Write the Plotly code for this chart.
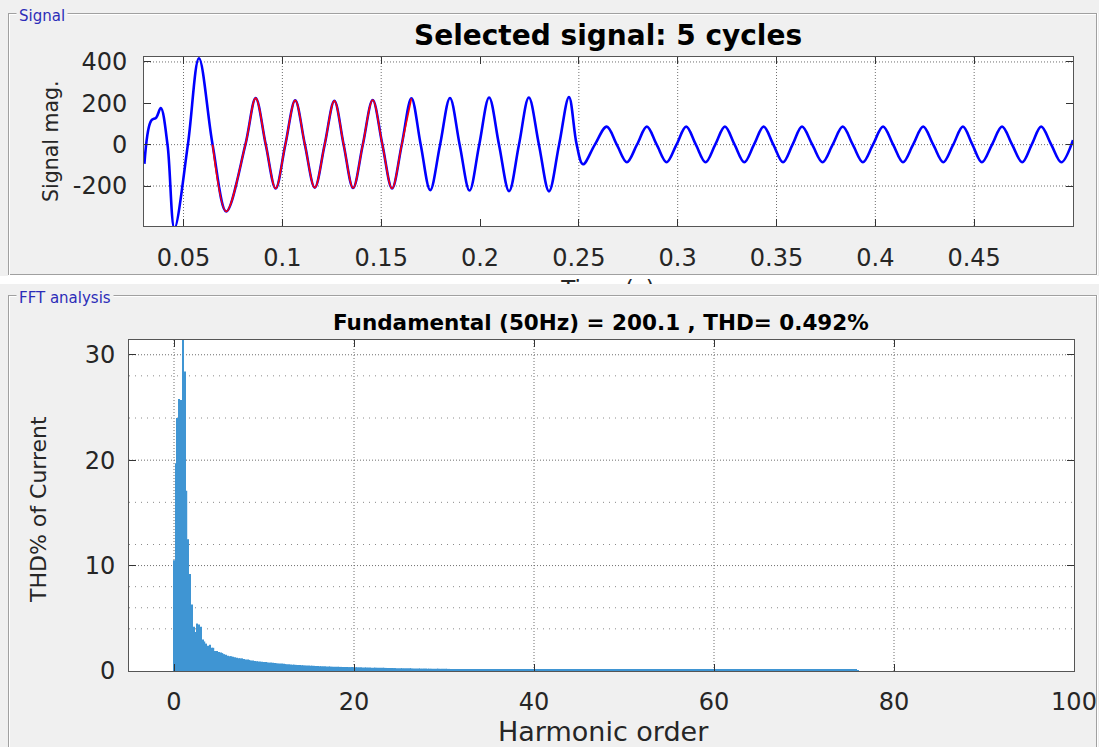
import plotly.graph_objects as go

# ---------------- data ----------------
# Time-domain signal: key points (peaks, troughs, zero crossings), seconds / magnitude
sig_t = [0.0302, 0.0336, 0.0362, 0.0385, 0.0419, 0.0454, 0.0522, 0.0578, 0.0647, 0.0716,
         0.0813, 0.0865, 0.0916, 0.0966, 0.1015, 0.1065, 0.1114, 0.1164, 0.1214, 0.1263,
         0.1310, 0.1358, 0.1407, 0.1457, 0.1506, 0.1555, 0.1604, 0.1653, 0.1700, 0.1748,
         0.1798, 0.1848, 0.1897, 0.1947, 0.1996, 0.2046, 0.2096, 0.2147, 0.2197, 0.2247,
         0.2298, 0.2349, 0.2400, 0.2450, 0.2489, 0.2521, 0.2581, 0.2641, 0.2692, 0.2743,
         0.2794, 0.2844, 0.2894, 0.2944, 0.2994, 0.3043, 0.3092, 0.3141, 0.3190, 0.3239,
         0.3288, 0.3337, 0.3386, 0.3435, 0.3484, 0.3533, 0.3581, 0.3629, 0.3681, 0.3733,
         0.3784, 0.3835, 0.3886, 0.3937, 0.3988, 0.4039, 0.4090, 0.4140, 0.4191, 0.4242,
         0.4293, 0.4344, 0.4394, 0.4443, 0.4491, 0.4539, 0.4590, 0.4641, 0.4692, 0.4743,
         0.4791, 0.4839, 0.4890, 0.4941, 0.5000]
sig_v = [-93, 116, 131, 177, 0, -405, 0, 418, 0, -323,
         0, 225, 0, -212, 0, 214, 0, -208, 0, 212,
         0, -210, 0, 216, 0, -212, 0, 224, 0, -220,
         0, 226, 0, -222, 0, 228, 0, -225, 0, 228,
         0, -226, 0, 230, 0, -95, 0, 87, 0, -85,
         0, 87, 0, -85, 0, 87, 0, -85, 0, 87,
         0, -85, 0, 87, 0, -85, 0, 87, 0, -85,
         0, 87, 0, -85, 0, 87, 0, -85, 0, 87,
         0, -85, 0, 87, 0, -85, 0, 87, 0, -85,
         0, 87, 0, -85, 22]

# selected 5-cycle window (s)
sel_start = 0.064
sel_end = 0.167

# FFT spectrum: harmonic orders start at 0, step 0.2 ; THD % values
harm_start = 0.0
harm_step = 0.2
thd_vals = [
    10.5, 19.7, 24.0, 25.8, 25.7,
    100.0, 28.4, 17.1, 12.5, 9.2,
    6.3, 4.2, 3.7, 4.5, 4.4,
    4.2, 3.0, 2.8, 2.6, 2.4,
    2.5, 2.2, 2.2, 1.9, 1.9,
    1.8, 1.75, 1.7, 1.6, 1.55,
    1.45, 1.4, 1.4, 1.35, 1.3,
    1.25, 1.2, 1.2, 1.2, 1.15,
    1.1, 1.1, 1.05, 1.0, 1.0,
    0.95, 0.93, 0.9, 0.9, 0.88,
    0.85, 0.85, 0.82, 0.8, 0.8,
    0.78, 0.75, 0.74, 0.72, 0.7,
    0.7, 0.68, 0.66, 0.64, 0.63,
    0.62, 0.6, 0.6, 0.58, 0.57,
    0.56, 0.55, 0.54, 0.53, 0.52,
    0.51, 0.5, 0.5, 0.49, 0.48,
    0.47, 0.46, 0.45, 0.45, 0.44,
    0.43, 0.42, 0.42, 0.41, 0.41,
    0.4, 0.4, 0.39, 0.39, 0.38,
    0.38, 0.38, 0.37, 0.37, 0.37,
    0.36, 0.36, 0.35, 0.35, 0.35,
    0.34, 0.34, 0.33, 0.33, 0.33,
    0.32, 0.32, 0.32, 0.31, 0.31,
    0.3, 0.3, 0.3, 0.29, 0.29,
    0.28, 0.28, 0.28, 0.28, 0.27,
    0.27, 0.26, 0.26, 0.26, 0.25,
    0.25, 0.25, 0.25, 0.24, 0.24,
    0.24, 0.24, 0.23, 0.23, 0.23,
    0.23, 0.22, 0.22, 0.22, 0.22,
    0.22, 0.22, 0.22, 0.21, 0.21,
    0.21, 0.21, 0.2, 0.2, 0.2,
    0.2, 0.2, 0.19, 0.19, 0.19,
    0.19, 0.18, 0.18, 0.18, 0.18,
    0.18, 0.18, 0.18, 0.17, 0.17,
    0.17, 0.17, 0.17, 0.17, 0.17,
    0.17, 0.17, 0.16, 0.16, 0.16,
    0.16, 0.16, 0.16, 0.16, 0.16,
    0.16, 0.16, 0.15, 0.15, 0.15,
    0.15, 0.15, 0.15, 0.15, 0.15,
    0.15, 0.15, 0.14, 0.14, 0.14,
    0.14, 0.14, 0.14, 0.14, 0.14,
    0.14, 0.14, 0.14, 0.14, 0.14,
    0.14, 0.14, 0.13, 0.13, 0.13,
    0.13, 0.13, 0.13, 0.13, 0.13,
    0.13, 0.13, 0.13, 0.13, 0.13,
    0.13, 0.12, 0.12, 0.12, 0.12,
    0.12, 0.12, 0.12, 0.12, 0.12,
    0.12, 0.12, 0.12, 0.12, 0.12,
    0.12, 0.12, 0.12, 0.12, 0.12,
    0.12, 0.12, 0.12, 0.12, 0.12,
    0.12, 0.12, 0.12, 0.12, 0.12,
    0.12, 0.12, 0.12, 0.12, 0.12,
    0.11, 0.11, 0.11, 0.11, 0.11,
    0.11, 0.11, 0.11, 0.11, 0.11,
    0.11, 0.11, 0.11, 0.11, 0.11,
    0.11, 0.11, 0.11, 0.11, 0.11,
    0.11, 0.11, 0.11, 0.11, 0.11,
    0.11, 0.11, 0.11, 0.11, 0.11,
    0.11, 0.11, 0.11, 0.11, 0.11,
    0.11, 0.11, 0.11, 0.11, 0.11,
    0.11, 0.11, 0.11, 0.11, 0.11,
    0.11, 0.11, 0.11, 0.11, 0.11,
    0.1, 0.1, 0.1, 0.1, 0.1,
    0.1, 0.1, 0.1, 0.1, 0.1,
    0.1, 0.1, 0.1, 0.1, 0.1,
    0.1, 0.1, 0.1, 0.1, 0.1,
    0.1, 0.1, 0.1, 0.1, 0.1,
    0.1, 0.1, 0.1, 0.1, 0.1,
    0.1, 0.1, 0.1, 0.1, 0.1,
    0.1, 0.1, 0.1, 0.1, 0.1,
    0.1, 0.1, 0.1, 0.1, 0.1,
    0.1, 0.1, 0.1, 0.1, 0.1,
    0.1, 0.1, 0.1, 0.1, 0.1,
    0.1, 0.1, 0.1, 0.1, 0.1,
    0.1, 0.1, 0.1, 0.1, 0.1,
    0.1, 0.1, 0.1, 0.1, 0.1,
    0.09,
]

time_ticks = [0.05, 0.1, 0.15, 0.2, 0.25, 0.3, 0.35, 0.4, 0.45]
time_ticktext = ["0.05", "0.1", "0.15", "0.2", "0.25", "0.3", "0.35", "0.4", "0.45"]
mag_ticks = [-200, 0, 200, 400]
mag_ticktext = ["-200", "0", "200", "400"]
harm_ticks = [0, 20, 40, 60, 80, 100]
thd_ticks = [0, 10, 20, 30]

top_title = "Selected signal: 5 cycles"
bottom_title = "Fundamental (50Hz) = 200.1 , THD= 0.492%"

# ---------------- layout helpers ----------------
W, H = 1099, 747
FONT = "DejaVu Sans"
TXT = "#262626"


def px(x):
    return x / W


def py(y):
    return 1 - y / H


fig = go.Figure()

fig.add_trace(go.Scatter(
    x=sig_t, y=sig_v, mode="lines",
    line=dict(color="#0000ff", width=2.6, shape="spline", smoothing=1.0),
    xaxis="x", yaxis="y", hoverinfo="skip", showlegend=False))

sel_t = [t for t in sig_t if sel_start <= t <= sel_end]
sel_v = [v for t, v in zip(sig_t, sig_v) if sel_start <= t <= sel_end]
fig.add_trace(go.Scatter(
    x=sel_t, y=sel_v, mode="lines",
    line=dict(color="#ff0000", width=1.6, shape="spline", smoothing=1.0),
    xaxis="x", yaxis="y", hoverinfo="skip", showlegend=False))

fig.add_trace(go.Bar(
    x0=harm_start, dx=harm_step, y=thd_vals,
    marker=dict(color="#3f95d3", line=dict(width=0)),
    xaxis="x2", yaxis="y2", hoverinfo="skip", showlegend=False))

# clipped x-axis title of the top panel (only its top is visible in the gap)
fig.add_trace(go.Scatter(
    x=[608 / W], y=[-0.95], mode="text", text=["Time (s)"],
    textfont=dict(family=FONT, size=23, color=TXT), textposition="middle center",
    cliponaxis=True, xaxis="x3", yaxis="y3", hoverinfo="skip", showlegend=False))

axis_common = dict(
    showline=True, linecolor="#555555", linewidth=1, mirror="ticks",
    ticks="inside", tickcolor="#333333", ticklen=7, tickwidth=1,
    showgrid=False, zeroline=False, automargin=False,
    tickfont=dict(family=FONT, size=24, color=TXT),
)

fig.update_layout(
    width=W, height=H, autosize=False,
    margin=dict(l=0, r=0, t=0, b=0, pad=0, autoexpand=False),
    paper_bgcolor="#f0f0f0", plot_bgcolor="#ffffff",
    bargap=0.3, showlegend=False,
    xaxis=dict(domain=[px(144), px(1073)], range=[0.03, 0.5], anchor="y",
               tickmode="array", tickvals=time_ticks, ticktext=time_ticktext,
               ticklabelstandoff=10, **axis_common),
    yaxis=dict(domain=[py(226), py(57)], range=[-393.5, 424], anchor="x",
               tickmode="array", tickvals=mag_ticks, ticktext=mag_ticktext,
               ticklabelstandoff=11, **axis_common),
    xaxis2=dict(domain=[px(129), px(1074)], range=[-5, 100], anchor="y2",
                tickmode="array", tickvals=harm_ticks,
                ticklabelstandoff=9, **axis_common),
    yaxis2=dict(domain=[py(671), py(340)], range=[0, 31.4], anchor="x2",
                tickmode="array", tickvals=thd_ticks,
                ticklabelstandoff=8, **axis_common),
    xaxis3=dict(domain=[0, 1], range=[0, 1], anchor="y3", visible=False,
                fixedrange=True, automargin=False),
    yaxis3=dict(domain=[py(284), py(276)], range=[0, 1], anchor="x3", visible=False,
                fixedrange=True, automargin=False),
)

shapes = []
dense = dict(color="#6e6e6e", width=1, dash="1px,2px")
sparse = dict(color="#8a8a8a", width=1, dash="1px,5px")

# top panel grid
for gy in [400, 0, -200]:
    shapes.append(dict(type="line", xref="x", yref="y", x0=0.03, x1=0.5, y0=gy, y1=gy,
                       line=dense, layer="below"))
for gx in [0.05, 0.1, 0.15, 0.25, 0.3, 0.35, 0.4, 0.45]:
    shapes.append(dict(type="line", xref="x", yref="y", x0=gx, x1=gx, y0=-393.5, y1=424,
                       line=dense, layer="below"))

# bottom panel grid
for gy in [10, 20, 30]:
    shapes.append(dict(type="line", xref="x2", yref="y2", x0=-5, x1=100, y0=gy, y1=gy,
                       line=dense, layer="below"))
for gy in [4, 6, 8, 12, 16, 24, 28]:
    shapes.append(dict(type="line", xref="x2", yref="y2", x0=-5, x1=100, y0=gy, y1=gy,
                       line=sparse, layer="below"))
for gx in [0, 20, 40, 60, 80]:
    shapes.append(dict(type="line", xref="x2", yref="y2", x0=gx, x1=gx, y0=0, y1=31.4,
                       line=dense, layer="below"))


# etched panel frames
def hline(x0, x1, y, color):
    shapes.append(dict(type="line", xref="paper", yref="paper", x0=px(x0), x1=px(x1),
                       y0=py(y), y1=py(y), line=dict(color=color, width=1), layer="below"))


def vline(x, y0, y1, color):
    shapes.append(dict(type="line", xref="paper", yref="paper", x0=px(x), x1=px(x),
                       y0=py(y0), y1=py(y1), line=dict(color=color, width=1), layer="below"))


for off, col in [(0, "#a0a0a0"), (1, "#ffffff")]:
    # Signal panel
    hline(8 + off, 1096, 13.5 + off, col)
    vline(8.5 + off, 13 + off, 275, col)
    hline(8, 1097, 274.5 + off, col)
    vline(1096.5 + off, 13, 275, col)
    # FFT panel
    hline(8 + off, 1096, 295.5 + off, col)
    vline(8.5 + off, 295 + off, 747, col)
    vline(1096.5 + off, 295, 747, col)

fig.update_layout(shapes=shapes)

annotations = [
    dict(text="<b>" + top_title + "</b>", x=px(608), y=py(35), xref="paper", yref="paper",
         showarrow=False, font=dict(family=FONT, size=28, color="#000000"),
         xanchor="center", yanchor="middle"),
    dict(text="<b>" + bottom_title + "</b>", x=px(601), y=py(322), xref="paper", yref="paper",
         showarrow=False, font=dict(family=FONT, size=21.5, color="#000000"),
         xanchor="center", yanchor="middle"),
    dict(text="Signal mag.", x=px(51), y=py(141), xref="paper", yref="paper", textangle=-90,
         showarrow=False, font=dict(family=FONT, size=20.5, color=TXT),
         xanchor="center", yanchor="middle"),
    dict(text="THD% of Current", x=px(38), y=py(510), xref="paper", yref="paper",
         textangle=-90, showarrow=False, font=dict(family=FONT, size=22, color=TXT),
         xanchor="center", yanchor="middle"),
    dict(text="Harmonic order", x=px(603), y=py(731), xref="paper", yref="paper",
         showarrow=False, font=dict(family=FONT, size=27, color=TXT),
         xanchor="center", yanchor="middle"),
    dict(text="Signal", x=px(16), y=py(15.5), xref="paper", yref="paper",
         showarrow=False, font=dict(family=FONT, size=15, color="#2c2cb8"),
         xanchor="left", yanchor="middle", bgcolor="#f0f0f0", borderpad=2),
    dict(text="FFT analysis", x=px(16), y=py(298), xref="paper", yref="paper",
         showarrow=False, font=dict(family=FONT, size=15, color="#2c2cb8"),
         xanchor="left", yanchor="middle", bgcolor="#f0f0f0", borderpad=2),
]
fig.update_layout(annotations=annotations)

fig.write_html("out.html", config={"displayModeBar": False})
